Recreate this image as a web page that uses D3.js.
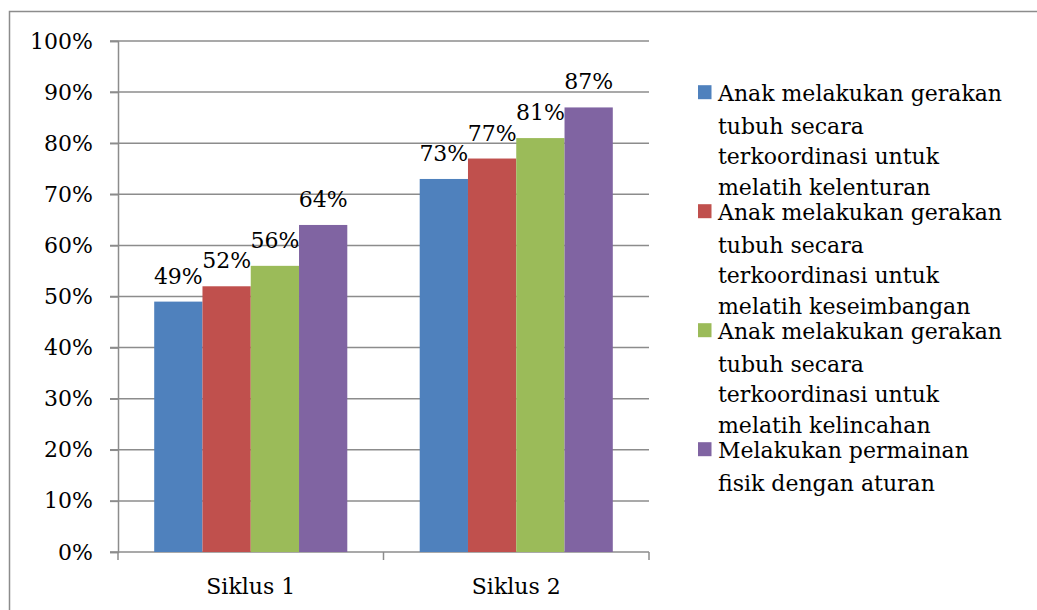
<!DOCTYPE html>
<html>
<head>
<meta charset="utf-8">
<script src="https://cdn.jsdelivr.net/npm/d3@7"></script>
<style>
  body { margin: 0; background: #fff; }
  svg { display: block; font-family: "DejaVu Serif", serif; }
</style>
</head>
<body>
<div id="chart"></div>
<script>
const w = 1037;
const h = 610;

const categories = ["Siklus 1", "Siklus 2"];
const seriesNames = [
  ["Anak melakukan gerakan", "tubuh secara", "terkoordinasi untuk", "melatih kelenturan"],
  ["Anak melakukan gerakan", "tubuh secara", "terkoordinasi untuk", "melatih keseimbangan"],
  ["Anak melakukan gerakan", "tubuh secara", "terkoordinasi untuk", "melatih kelincahan"],
  ["Melakukan permainan", "fisik dengan aturan"]
];
const siklus1 = [49, 52, 56, 64];
const siklus2 = [73, 77, 81, 87];
const yTicks = [0, 10, 20, 30, 40, 50, 60, 70, 80, 90, 100];
const colors = ["#4f81bd", "#c0504d", "#9bbb59", "#8064a2"];

const plot = { left: 118, right: 649, top: 41, bottom: 552 };
const fontSize = 22;

const svg = d3.select("#chart")
  .append("svg")
  .attr("width", w)
  .attr("height", h);

// outer frame (only top and left edges visible)
svg.append("rect")
  .attr("x", 9.5)
  .attr("y", 11.5)
  .attr("width", w + 20)
  .attr("height", h + 20)
  .attr("fill", "none")
  .attr("stroke", "#8c8c8c")
  .attr("stroke-width", 1.5);

const xScale = d3.scaleBand()
  .domain(categories)
  .range([plot.left, plot.right])
  .paddingInner(0)
  .paddingOuter(0);

const inner = d3.scaleBand()
  .domain(d3.range(4))
  .range([0, xScale.bandwidth()])
  .paddingOuter(0.75)
  .paddingInner(0);

const yScale = d3.scaleLinear()
  .domain([0, 100])
  .range([plot.bottom, plot.top]);

// gridlines
svg.append("g")
  .selectAll("line")
  .data(yTicks)
  .enter()
  .append("line")
  .attr("x1", plot.left - 8)
  .attr("x2", plot.right)
  .attr("y1", d => yScale(d))
  .attr("y2", d => yScale(d))
  .attr("stroke", "#8c8c8c")
  .attr("stroke-width", 1.5);

// y axis
const yAxis = d3.axisLeft(yScale)
  .tickValues(yTicks)
  .tickFormat(d => d + "%")
  .tickSize(8)
  .tickPadding(17);

const gy = svg.append("g")
  .attr("transform", `translate(${plot.left}, 0)`)
  .call(yAxis);
gy.selectAll("path, line").attr("stroke", "#8c8c8c").attr("stroke-width", 1.5);
gy.selectAll("text").style("font-size", fontSize + "px").style("font-family", "DejaVu Serif").attr("fill", "#000");

// x axis
const xAxis = d3.axisBottom(xScale)
  .tickSize(0)
  .tickPadding(26);

const gx = svg.append("g")
  .attr("transform", `translate(0, ${plot.bottom})`)
  .call(xAxis);
gx.select("path").remove();
gx.selectAll("text").style("font-size", fontSize + "px").style("font-family", "DejaVu Serif").attr("fill", "#000");

// category boundary ticks
svg.append("g")
  .selectAll("line")
  .data([plot.left, ...categories.map(c => xScale(c) + xScale.bandwidth())])
  .enter()
  .append("line")
  .attr("x1", d => d)
  .attr("x2", d => d)
  .attr("y1", plot.bottom)
  .attr("y2", plot.bottom + 8)
  .attr("stroke", "#8c8c8c")
  .attr("stroke-width", 1.5);

const data = [siklus1, siklus2];

const groups = svg.append("g")
  .selectAll("g")
  .data(data)
  .enter()
  .append("g")
  .attr("transform", (d, i) => `translate(${xScale(categories[i])}, 0)`);

groups.selectAll("rect")
  .data(d => d)
  .enter()
  .append("rect")
  .attr("x", (d, i) => inner(i))
  .attr("y", d => yScale(d))
  .attr("width", inner.bandwidth())
  .attr("height", d => yScale(0) - yScale(d))
  .attr("fill", (d, i) => colors[i]);

groups.selectAll("text")
  .data(d => d)
  .enter()
  .append("text")
  .attr("x", (d, i) => inner(i) + inner.bandwidth() / 2)
  .attr("y", d => yScale(d) - 18)
  .attr("text-anchor", "middle")
  .style("font-size", fontSize + "px")
  .text(d => d + "%");

// legend
const legend = svg.append("g").attr("id", "legend");
const firstGap = 33;
const lineGap = 30.5;
const entryGap = 25;
let baseY = 100.7;
seriesNames.forEach((lines, i) => {
  legend.append("rect")
    .attr("x", 698)
    .attr("y", baseY - 15.5)
    .attr("width", 13.5)
    .attr("height", 14)
    .attr("fill", colors[i]);
  let y = baseY;
  lines.forEach((t, j) => {
    if (j === 1) y += firstGap;
    else if (j > 1) y += lineGap;
    legend.append("text")
      .attr("x", 718)
      .attr("y", y)
      .style("font-size", fontSize + "px")
      .text(t);
  });
  baseY = y + entryGap;
});
</script>
</body>
</html>
